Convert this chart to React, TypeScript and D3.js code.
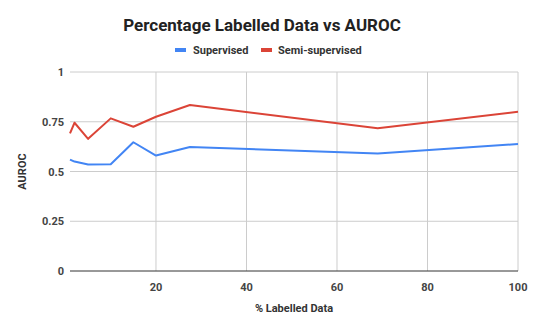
import React from "react";
import * as d3 from "d3";

const xValues = [1, 2, 5, 10, 15, 20, 27.5, 69, 100];
const supervised = [0.56, 0.55, 0.535, 0.536, 0.647, 0.58, 0.623, 0.59, 0.638];
const semiSupervised = [0.692, 0.745, 0.664, 0.767, 0.725, 0.775, 0.834, 0.717, 0.8];
const xTicks = [20, 40, 60, 80, 100];
const yTicks = [0, 0.25, 0.5, 0.75, 1];
const yTickLabels = ["0", "0.25", "0.5", "0.75", "1"];

const W = 535;
const H = 331;
const M = { left: 70, right: 17, top: 72, bottom: 60 };
const FONT = "Roboto, 'Noto Sans', sans-serif";
const BLUE = "#4285F4";
const RED = "#DB4437";

export default function App() {
  const x = d3.scaleLinear().domain([1, 100]).range([M.left, W - M.right]);
  const y = d3.scaleLinear().domain([0, 1]).range([H - M.bottom, M.top]);
  const line = d3
    .line<number>()
    .x((_, i) => x(xValues[i]))
    .y((d) => y(d));

  return (
    <svg
      width={W}
      height={H}
      style={{ position: "absolute", left: 0, top: 0, background: "#fff" }}
      fontFamily={FONT}
    >
      <rect width={W} height={H} fill="#fff" />
      <text x={262} y={31} textAnchor="middle" fontSize={17} fontWeight="bold" fill="#222">
        Percentage Labelled Data vs AUROC
      </text>
      {/* legend */}
      <rect x={175} y={48} width={11} height={4} fill={BLUE} />
      <text x={193} y={54} fontSize={11} fontWeight="bold" fill="#333">
        Supervised
      </text>
      <rect x={261} y={48} width={11} height={4} fill={RED} />
      <text x={278} y={54} fontSize={11} fontWeight="bold" fill="#333">
        Semi-supervised
      </text>
      {/* grid */}
      {yTicks.map((t, i) => (
        <g key={"y" + t}>
          {t !== 0 && (
            <line x1={M.left} x2={W - M.right} y1={y(t)} y2={y(t)} stroke="#cccccc" strokeWidth={1} />
          )}
          <text x={M.left - 6} y={y(t) + 4} textAnchor="end" fontSize={11} fontWeight="bold" fill="#444">
            {yTickLabels[i]}
          </text>
        </g>
      ))}
      {xTicks.map((t) => (
        <g key={"x" + t}>
          <line x1={x(t)} x2={x(t)} y1={M.top} y2={y(0)} stroke="#cccccc" strokeWidth={1} />
          <text x={x(t)} y={y(0) + 20} textAnchor="middle" fontSize={11} fontWeight="bold" fill="#444">
            {t}
          </text>
        </g>
      ))}
      <line x1={M.left} x2={W - M.right} y1={y(0)} y2={y(0)} stroke="#333" strokeWidth={1} />
      <path d={line(supervised) || ""} fill="none" stroke={BLUE} strokeWidth={2} strokeLinejoin="round" />
      <path d={line(semiSupervised) || ""} fill="none" stroke={RED} strokeWidth={2} strokeLinejoin="round" />
      <text x={(M.left + W - M.right) / 2} y={312} textAnchor="middle" fontSize={11} fontWeight="bold" fill="#333">
        % Labelled Data
      </text>
      <text
        transform={`translate(26, ${(M.top + H - M.bottom) / 2}) rotate(-90)`}
        textAnchor="middle"
        fontSize={11}
        fontWeight="bold"
        fill="#333"
      >
        AUROC
      </text>
    </svg>
  );
}
